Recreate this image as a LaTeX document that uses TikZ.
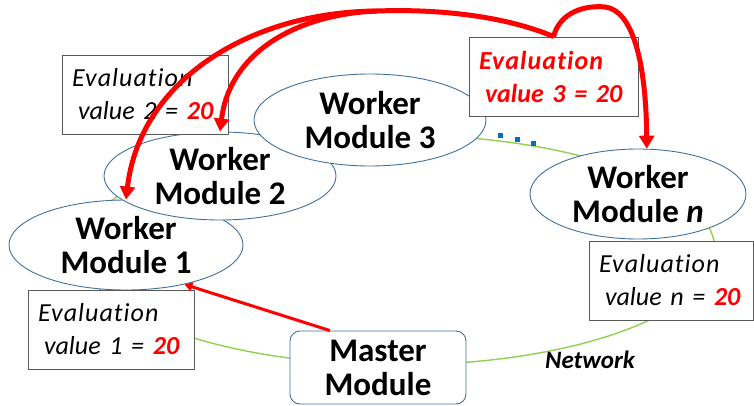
\documentclass[tikz,border=0pt]{standalone}
\usepackage{fontspec}
\setmainfont[Ligatures=NoCommon]{Carlito}
\usetikzlibrary{arrows.meta,calc,shapes.geometric}
\definecolor{ered}{HTML}{FF0000}
\definecolor{eblue}{HTML}{41719C}
\definecolor{egreen}{HTML}{92D050}
\definecolor{dotblue}{HTML}{0070C0}
\definecolor{boxgray}{HTML}{595959}
\newcommand{\evalword}{\mbox{\addfontfeature{LetterSpace=4}Evaluation}}
\begin{document}
\begin{tikzpicture}[x=1pt,y=-1pt,
  worker/.style={ellipse, draw=eblue, line width=0.9pt, fill=white, inner sep=0pt,
    align=center, font=\fontsize{33}{34}\selectfont\bfseries},
  evalbox/.style={rectangle, draw=boxgray, line width=0.9pt, fill=white,
    inner xsep=10pt, inner ysep=0pt, minimum height=79pt, text width=#1, align=left,
    font=\fontsize{26}{33}\selectfont\itshape},
  masterbox/.style={rectangle, rounded corners=10pt, draw=eblue, line width=0.9pt,
    fill=white, minimum width=176pt, minimum height=73pt, align=center,
    font=\fontsize{33}{34}\selectfont\bfseries},
  ring/.style={ellipse, draw=egreen, line width=1.4pt, inner sep=0pt},
  redarrow/.style={draw=ered, line width=5pt, -{Triangle[length=13pt,width=15pt]}},
  masterarrow/.style={draw=ered, line width=3pt, -{Triangle[length=8pt,width=9pt]}},
  dot/.style={fill=dotblue}
]
\useasboundingbox (0,0) rectangle (754,406);
% network ring
\node[ring, minimum width=634pt, minimum height=230pt] (net) at (398,250) {};
\node[font=\fontsize{25}{27}\selectfont\bfseries\itshape] (netlabel) at (590,360) {Network};
% workers
\node[worker, minimum width=234pt, minimum height=90pt] (w1) at (126,245) {Worker\\Module 1};
\node[worker, minimum width=232pt, minimum height=88pt] (w2) at (220,176) {Worker\\Module 2};
\node[worker, minimum width=232pt, minimum height=92pt] (w3) at (370,120) {Worker\\Module 3};
\node[worker, minimum width=216pt, minimum height=90pt] (wn) at (638,194) {Worker\\Module \textit{n}};
% master
\node[masterbox] (m) at (378,367.5) {Master\\Module};
% evaluation boxes
\node[evalbox=146pt] (b2) at (145,94.5) {\evalword\\\mbox{\hspace*{6pt}value 2 = {\bfseries\color{ered}20}}};
\node[evalbox=146pt] (b1) at (111,329.5) {\evalword\\\mbox{\hspace*{6pt}value 1 = {\bfseries\color{ered}20}}};
\node[evalbox=144pt] (bn) at (671,280.5) {\evalword\\\mbox{\hspace*{6pt}value \textit{n} = {\bfseries\color{ered}20}}};
\node[evalbox=149pt, text=ered, font=\fontsize{26}{33}\selectfont\bfseries\itshape] (b3) at (553.5,76.5) {\evalword\\\mbox{\hspace*{6pt}value 3 = 20}};
% dots
\fill[dot] (497.5,133.5) rectangle ++(5,5);
\fill[dot] (514.5,137.5) rectangle ++(5,5);
\fill[dot] (530.5,141.5) rectangle ++(5,5);
% arrows
\coordinate (split) at (377,11);
\coordinate (peak) at (605,7);
\draw[redarrow] (b3.north) .. controls (500,14) and (430,9) .. (split) .. controls (250,12) and (140,80) .. (w1.north);
\draw[redarrow] (split) .. controls (300,14) and (230,50) .. (w2.north);
\draw[redarrow] (b3.north) .. controls (560,12) and (585,5) .. (peak) .. controls (632,10) and (646,60) .. (wn.79);
\draw[masterarrow] ($(m.north)+(-48,0)$) -- (w1.-34);
\end{tikzpicture}
\end{document}
